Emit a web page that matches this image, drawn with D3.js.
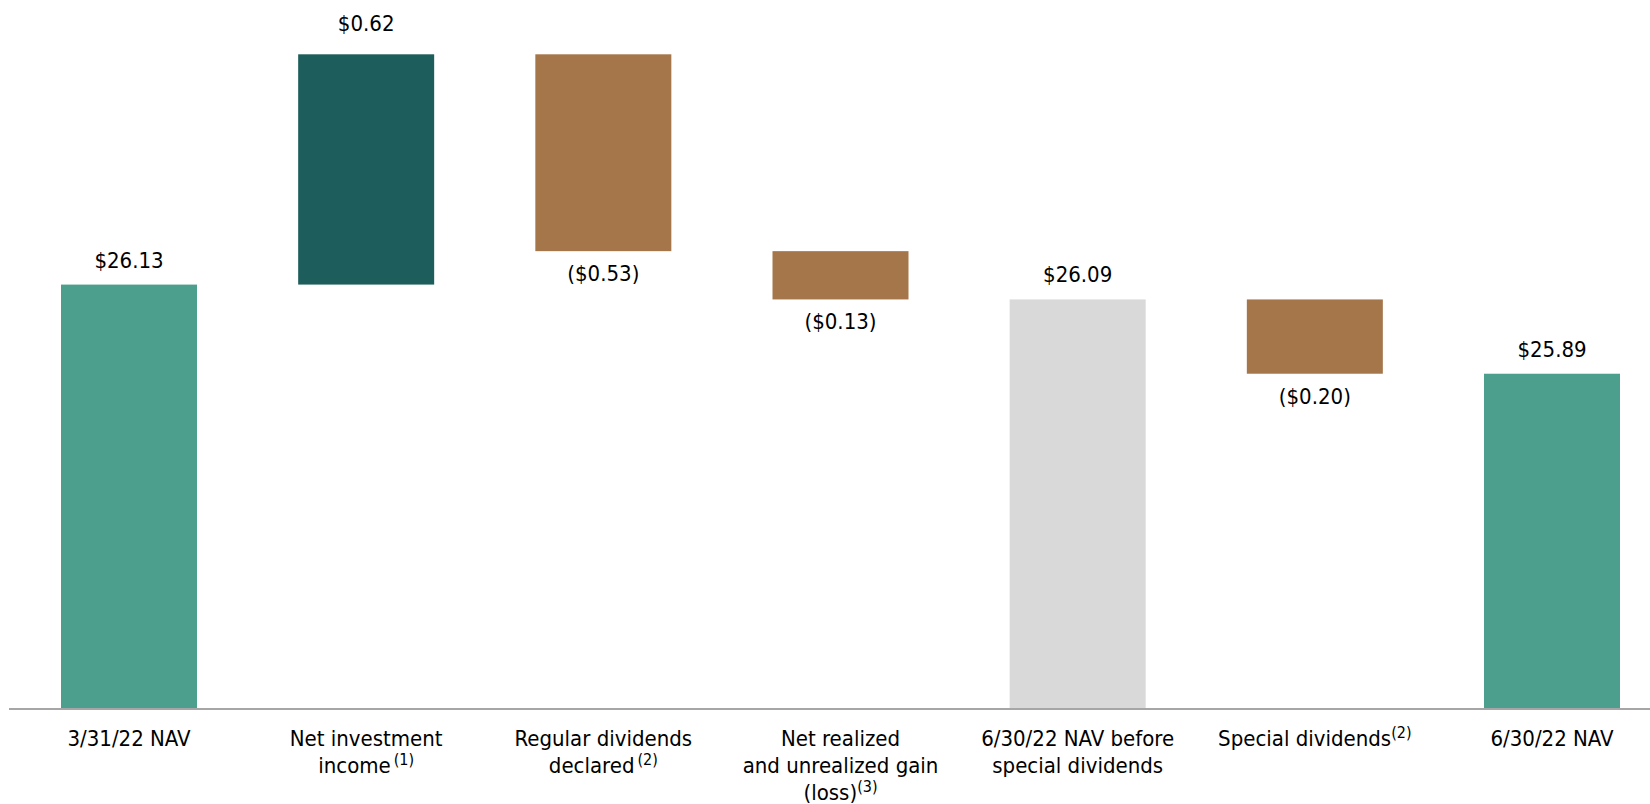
<!DOCTYPE html>
<html>
<head>
<meta charset="utf-8">
<script src="https://cdn.jsdelivr.net/npm/d3@7/dist/d3.min.js"></script>
<style>
  html, body { margin: 0; padding: 0; background: #fff; }
  svg { display: block; }
  text { font-family: 'DejaVu Sans Condensed', 'DejaVu Sans', sans-serif; font-stretch: condensed; fill: #000; }
</style>
</head>
<body>
<svg id="chart" width="1650" height="804"></svg>
<script>
// chart values
var categories = ['3/31/22 NAV', 'Net investment income', 'Regular dividends declared',
  'Net realized and unrealized gain (loss)', '6/30/22 NAV before special dividends',
  'Special dividends', '6/30/22 NAV'];
var steps = [26.13, 0.62, -0.53, -0.13, 26.09, -0.20, 25.89];
var kinds = ['total', 'up', 'down', 'down', 'subtotal', 'down', 'total'];

// tick labels, split in lines, with footnote marks on the last line
var tickLines = [
  ['3/31/22 NAV'],
  ['Net investment', 'income'],
  ['Regular dividends', 'declared'],
  ['Net realized', 'and unrealized gain', '(loss)'],
  ['6/30/22 NAV before', 'special dividends'],
  ['Special dividends'],
  ['6/30/22 NAV']
];
var footnotes = ['', '\u2009(1)', '\u2009(2)', '(3)', '', '(2)', ''];

var width = 1650, height = 804
  , barWidth = 136
  , color = { total: '#4c9f8c', up: '#1d5e5c', down: '#a57649', subtotal: '#d9d9d9' }
  , fmt = d3.format('($.2f')
  ;

var x = d3.scalePoint().domain(categories).range([129, 1552]);
var y = d3.scaleLinear().domain([24.99, 26.75]).range([708, 54.3]);
var floor = y.domain()[0];

// build waterfall segments
var running = floor;
var bars = steps.map(function (v, i) {
  var from, to;
  if (kinds[i] === 'total' || kinds[i] === 'subtotal') {
    from = floor; to = v; running = v;
  } else {
    from = running; to = running + v; running = to;
  }
  return { cat: categories[i], value: v, kind: kinds[i], lo: Math.min(from, to), hi: Math.max(from, to) };
});

var svg = d3.select('#chart');

svg.selectAll('rect.bar')
    .data(bars)
  .enter().append('rect')
    .attr('class', 'bar')
    .attr('x', function (d) { return x(d.cat) - barWidth / 2; })
    .attr('width', barWidth)
    .attr('y', function (d) { return y(d.hi); })
    .attr('height', function (d) { return y(d.lo) - y(d.hi); })
    .attr('fill', function (d) { return color[d.kind]; });

// baseline
svg.append('line')
    .attr('x1', 9).attr('x2', width)
    .attr('y1', y(floor) + 1).attr('y2', y(floor) + 1)
    .attr('stroke', '#a6a6a6')
    .attr('stroke-width', 2);

// value labels
svg.selectAll('text.value')
    .data(bars)
  .enter().append('text')
    .attr('class', 'value')
    .attr('x', function (d) { return x(d.cat); })
    .attr('y', function (d) {
      if (d.kind === 'down') { return y(d.lo) + 30; }
      if (d.kind === 'up') { return y(d.hi) - 23; }
      return y(d.hi) - 17;
    })
    .attr('text-anchor', 'middle')
    .style('font-size', '22px')
    .text(function (d) { return fmt(d.value); });

// category labels
var ticks = svg.selectAll('g.tick')
    .data(categories)
  .enter().append('g')
    .attr('class', 'tick')
    .attr('transform', function (d) { return 'translate(' + x(d) + ',0)'; });

ticks.each(function (d, i) {
  var g = d3.select(this);
  var lines = tickLines[i];
  lines.forEach(function (line, j) {
    var t = g.append('text')
        .attr('x', 0)
        .attr('y', 746 + j * 27)
        .attr('text-anchor', 'middle')
        .style('font-size', '22px');
    t.append('tspan').text(line);
    if (j === lines.length - 1 && footnotes[i]) {
      t.append('tspan')
          .attr('dy', -8)
          .style('font-size', '16px')
          .text(footnotes[i]);
    }
  });
});
</script>
</body>
</html>
